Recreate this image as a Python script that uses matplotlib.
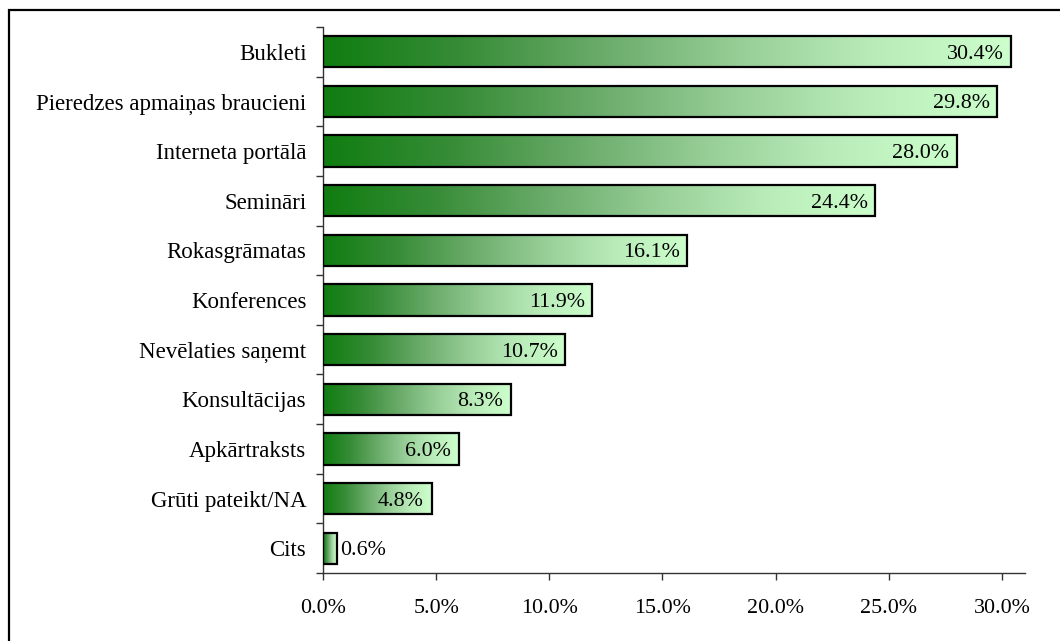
import numpy as np
import matplotlib
matplotlib.use("Agg")
import matplotlib.pyplot as plt
from matplotlib.patches import Rectangle
from matplotlib.ticker import FuncFormatter, MultipleLocator

categories = ["Bukleti", "Pieredzes apmaiņas braucieni", "Interneta portālā", "Semināri",
              "Rokasgrāmatas", "Konferences", "Nevēlaties saņemt", "Konsultācijas",
              "Apkārtraksts", "Grūti pateikt/NA", "Cits"]
values = [30.4, 29.8, 28.0, 24.4, 16.1, 11.9, 10.7, 8.3, 6.0, 4.8, 0.6]

plt.rcParams['font.family'] = ['Liberation Serif', 'DejaVu Serif']
FS_CAT = 16.5
FS_NUM = 15.8

fig = plt.figure(figsize=(10.6, 6.41), dpi=100)
ax = fig.add_axes([323/1060, 1-573/641, (1025-323)/1060, (573-27)/641])

# gradient colour stops (position, rgb)
stops_pos = [0.0, 0.2, 0.4, 0.6, 0.8, 1.0]
stops_rgb = np.array([[16, 125, 16], [55, 140, 55], [105, 170, 105],
                      [150, 205, 150], [185, 235, 185], [204, 255, 204]]) / 255
t = np.linspace(0, 1, 256)
grad = np.stack([np.interp(t, stops_pos, stops_rgb[:, k]) for k in range(3)], axis=-1)[None, :, :]

h = 0.63
for i, (c, v) in enumerate(zip(categories, values)):
    ax.imshow(grad, extent=[0, v, i + h/2, i - h/2], aspect='auto', zorder=2, interpolation='bilinear')
    ax.add_patch(Rectangle((0, i - h/2), v, h, fill=False, edgecolor='black', linewidth=1.6, zorder=3))
    lbl = f"{v:.1f}%"
    if v < 2:
        ax.annotate(lbl, (v, i), xytext=(2.5, 0), textcoords='offset points', ha='left',
                    va='center_baseline', fontsize=FS_NUM, zorder=4)
    else:
        ax.annotate(lbl, (v, i), xytext=(-5.5, 0), textcoords='offset points', ha='right',
                    va='center_baseline', fontsize=FS_NUM, zorder=4)

ax.set_xlim(0, 31.02)
ax.set_ylim(len(categories) - 0.5, -0.5)
ax.set_yticks(np.arange(len(categories)))
ax.set_yticklabels(categories, fontsize=FS_CAT, va='center_baseline')
ax.set_yticks(np.arange(len(categories) + 1) - 0.5, minor=True)
ax.tick_params(axis='y', which='major', length=0, pad=12)
ax.tick_params(axis='y', which='minor', length=5, width=1, color='#333333', direction='out')
ax.xaxis.set_major_locator(MultipleLocator(5))
ax.xaxis.set_major_formatter(FuncFormatter(lambda x, p: f"{x:.1f}%"))
ax.tick_params(axis='x', which='major', length=5, width=1, color='#333333', direction='out',
               pad=14, labelsize=FS_NUM)
for s in ['top', 'right']:
    ax.spines[s].set_visible(False)
for s in ['left', 'bottom']:
    ax.spines[s].set_color('#333333')
    ax.spines[s].set_linewidth(1)

fig.add_artist(Rectangle((9/1060, -0.1), 1.2, 1 - 10/641 + 0.1, transform=fig.transFigure,
                         fill=False, edgecolor='black', linewidth=1.6))

fig.savefig("out.png", dpi=100)
